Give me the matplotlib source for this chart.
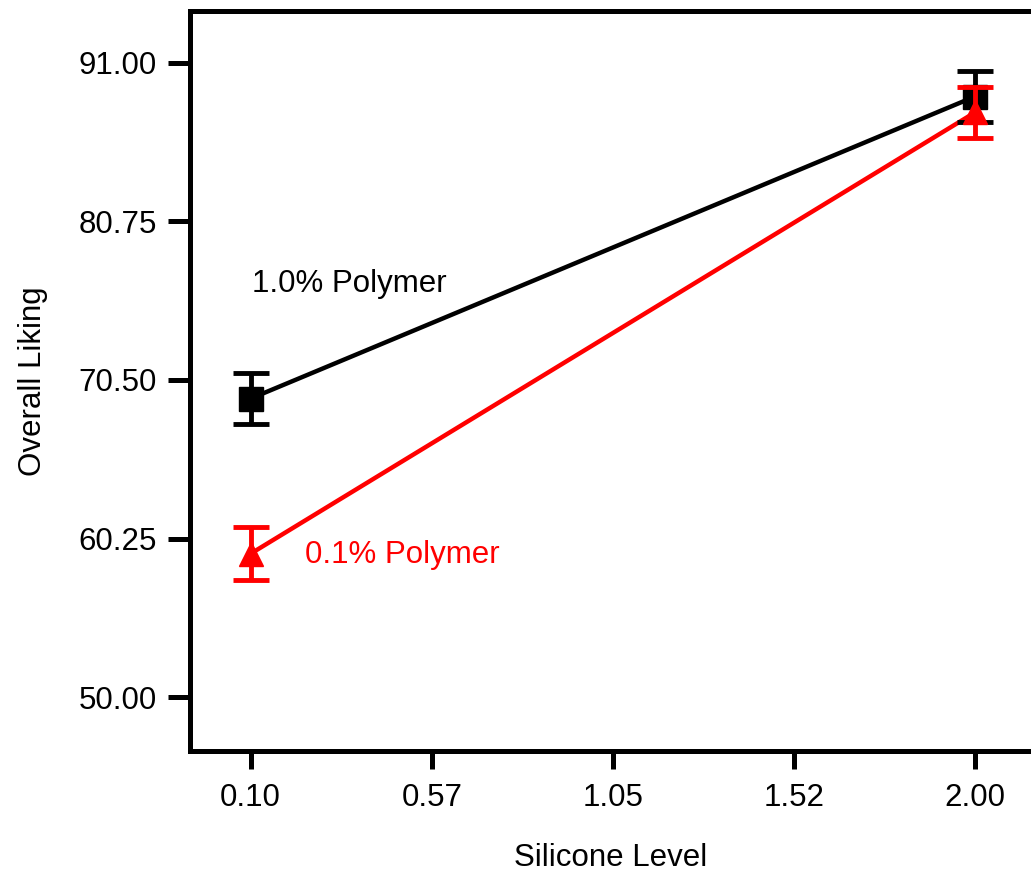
import matplotlib
matplotlib.use("Agg")
import matplotlib.pyplot as plt

plt.rcParams['font.family'] = ['Liberation Sans', 'DejaVu Sans']

silicone = [0.10, 2.00]
poly_high = [69.30, 88.83]   # 1.0% Polymer
poly_high_err = [1.65, 1.65]
poly_low = [59.27, 87.80]    # 0.1% Polymer
poly_low_err = [1.70, 1.65]

xticks = [0.10, 0.575, 1.05, 1.525, 2.00]
xtick_labels = ["0.10", "0.57", "1.05", "1.52", "2.00"]
yticks = [50.00, 60.25, 70.50, 80.75, 91.00]
ytick_labels = ["50.00", "60.25", "70.50", "80.75", "91.00"]

fig = plt.figure(figsize=(10.31, 8.73), dpi=100)
ax = fig.add_axes([190/1031, 1-751/873, 1-190/1031, (751-11)/873])

ax.plot(silicone, poly_high, color='black', lw=3.2, zorder=3)
ax.errorbar(silicone, poly_high, yerr=poly_high_err, fmt='s', color='black',
            ms=17, capsize=13, elinewidth=3.5, capthick=3.5, zorder=4)
ax.plot(silicone, poly_low, color='red', lw=3.2, zorder=3)
ax.errorbar(silicone, poly_low, yerr=poly_low_err, fmt='^', color='red',
            ms=17, capsize=13, elinewidth=3.5, capthick=3.5, zorder=5)

ax.text(0.103, 76.7, "1.0% Polymer", color='black', fontsize=22.5, va='center', ha='left')
ax.text(0.242, 59.2, "0.1% Polymer", color='red', fontsize=22.5, va='center', ha='left')

ax.set_xlim(-0.0592, 2.147)
ax.set_ylim(46.51, 94.36)
ax.set_xticks(xticks)
ax.set_xticklabels(xtick_labels)
ax.set_yticks(yticks)
ax.set_yticklabels(ytick_labels)

for s in ['left', 'top', 'bottom']:
    ax.spines[s].set_linewidth(3.6)
ax.spines['right'].set_visible(False)

ax.tick_params(axis='y', length=16, width=3.6, pad=8, labelsize=22.5, direction='out')
ax.tick_params(axis='x', length=13, width=3.6, pad=10, labelsize=22.5, direction='out')

ax.set_xlabel("Silicone Level", fontsize=22.5, labelpad=22)
ax.set_ylabel("Overall Liking", fontsize=22.5, labelpad=22)

fig.savefig("out.png", dpi=100)
